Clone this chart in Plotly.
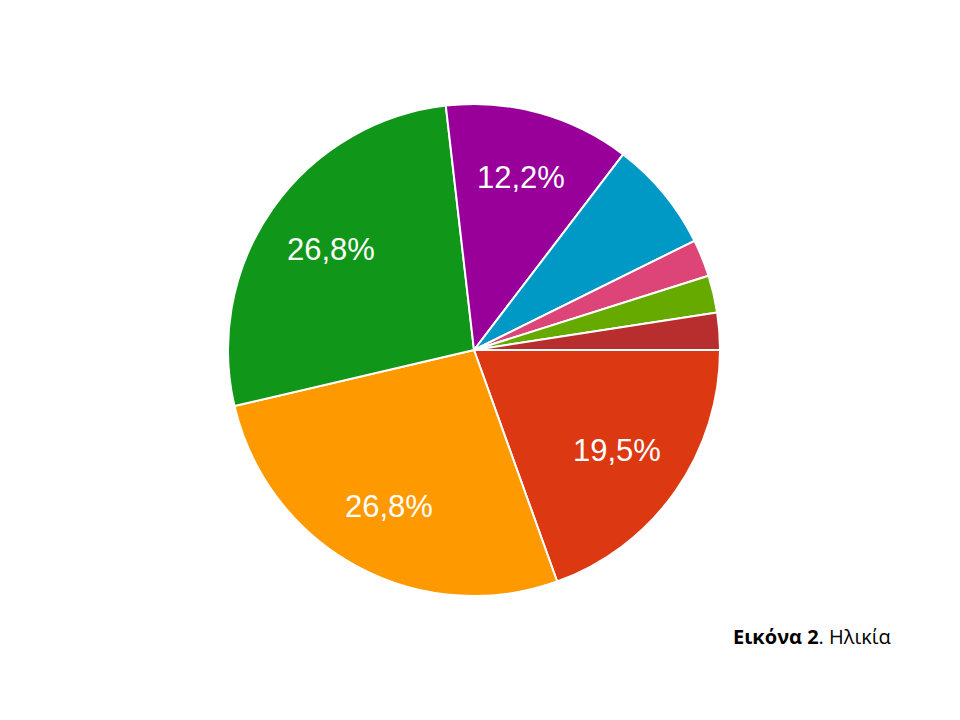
import math
import plotly.graph_objects as go

labels = ["A", "B", "C", "D", "E", "F", "G", "H"]
values = [8, 11, 11, 5, 3, 1, 1, 1]
text_labels = ["19,5%", "26,8%", "26,8%", "12,2%", "", "", "", ""]
colors = ["#DC3912", "#FF9900", "#109618", "#990099", "#0099C6", "#DD4477", "#66AA00", "#B82E2E"]

W, H = 960, 720
OFF = 8  # page body margin offset
CX, CY, R = 474 - OFF, 350 - OFF, 246

fig = go.Figure(go.Pie(
    labels=labels,
    values=values,
    textinfo="none",
    marker=dict(colors=colors, line=dict(color="white", width=2)),
    sort=False,
    direction="clockwise",
    rotation=90,
    domain=dict(x=[(CX - R) / W, (CX + R) / W], y=[1 - (CY + R) / H, 1 - (CY - R) / H]),
    showlegend=False,
    hoverinfo="label+percent",
))

# Slice labels placed at the mid-angle of each slice (derived from the values)
total = sum(values)
cum = 0
for v, t in zip(values, text_labels):
    mid = (cum + v / 2) / total * 2 * math.pi
    cum += v
    if not t:
        continue
    r = (0.68 + 0.05 * abs(math.sin(mid))) * R
    px = CX + r * math.cos(mid)
    py = CY + r * math.sin(mid)
    fig.add_annotation(
        x=px / W, y=1 - py / H, xref="paper", yref="paper",
        xanchor="center", yanchor="middle",
        text=t, showarrow=False,
        font=dict(family="Liberation Sans, Arial", size=31, color="white"),
    )

fig.add_annotation(
    x=(893 - OFF) / W, y=1 - (636 - OFF) / H, xref="paper", yref="paper",
    xanchor="right", yanchor="middle",
    text="<b>Εικόνα 2</b>. Ηλικία",
    showarrow=False,
    font=dict(family="Open Sans, Noto Sans", size=20, color="black"),
)

fig.update_layout(
    width=W, height=H,
    margin=dict(l=0, r=0, t=0, b=0),
    paper_bgcolor="white",
    plot_bgcolor="white",
)

fig.write_html("out.html")
